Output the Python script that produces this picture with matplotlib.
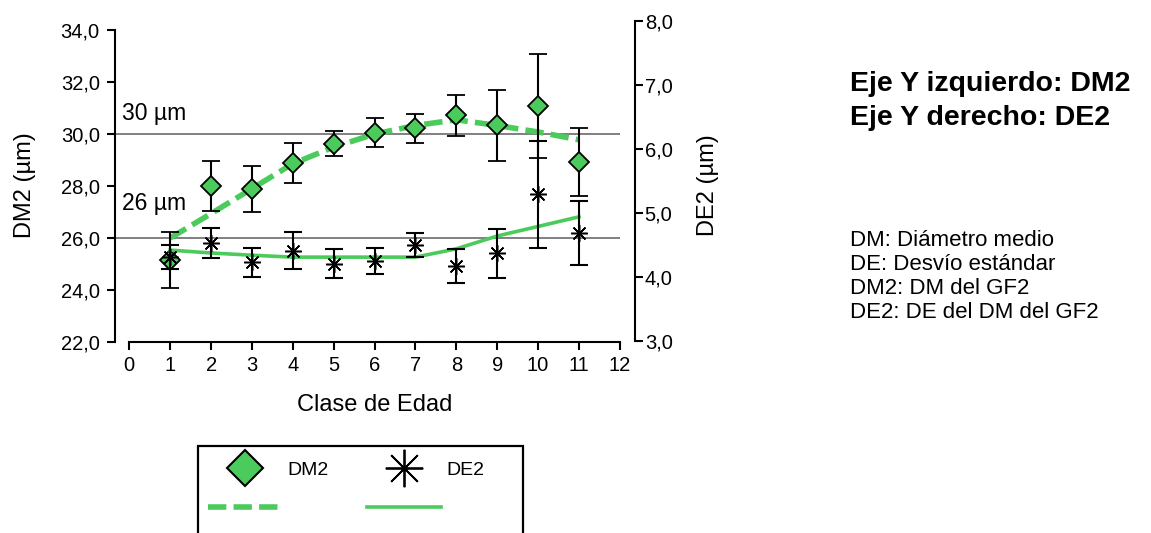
import matplotlib
matplotlib.use("Agg")
import matplotlib.pyplot as plt
from matplotlib.lines import Line2D
from matplotlib.patches import Rectangle

plt.rcParams['font.family'] = ['Liberation Sans', 'DejaVu Sans']

# clase de edad 1..11
clases = [1, 2, 3, 4, 5, 6, 7, 8, 9, 10, 11]

# diametro medio GF2 (eje izquierdo)
dm2 = [25.15, 28.0, 27.9, 28.9, 29.63, 30.05, 30.23, 30.72, 30.33, 31.07, 28.92]
dm2_err = [1.07, 0.95, 0.88, 0.77, 0.48, 0.56, 0.56, 0.79, 1.38, 2.0, 1.3]
dm2_fit = [26.0, 26.94, 27.9, 28.86, 29.5, 30.0, 30.33, 30.55, 30.33, 30.08, 29.78]

# desvio estandar (eje derecho)
de2 = [4.31, 4.53, 4.23, 4.41, 4.21, 4.25, 4.50, 4.17, 4.37, 5.29, 4.69]
de2_err = [0.19, 0.23, 0.23, 0.29, 0.23, 0.20, 0.18, 0.26, 0.38, 0.83, 0.50]
de2_fit = [4.42, 4.375, 4.34, 4.31, 4.31, 4.31, 4.31, 4.44, 4.64, 4.79, 4.94]

# lineas de referencia
ref_vals = [30, 26]
ref_labels = ["30 µm", "26 µm"]
ref_label_y = [30.8, 27.33]

left_ticks = [22, 24, 26, 28, 30, 32, 34]
right_ticks = [3, 4, 5, 6, 7, 8]
x_ticks = list(range(0, 13))

green = "#4BCB5B"
W, H = 1151, 533

fig = plt.figure(figsize=(W / 100, H / 100), dpi=100)
ax = fig.add_axes([115 / W, (H - 342) / H, 520 / W, 321 / H])
ax2 = ax.twinx()

ax.set_xlim(-0.35, 12.37)
ax.set_ylim(22, 34.35)
ax2.set_ylim(2.984, 8.0)

# reference lines
for v, lab, ly in zip(ref_vals, ref_labels, ref_label_y):
    ax.hlines(v, -0.35, 12, color="#808080", lw=1.4, zorder=1)
    ax.text(-0.18, ly, lab, fontsize=16.5, va="center", ha="left")

# DM2
ax.plot(clases, dm2_fit, color=green, lw=4, dashes=(3.3, 1.3), zorder=2)
ax.errorbar(clases, dm2, yerr=dm2_err, fmt="D", ms=10, mfc=green, mec="black",
            mew=1.3, ecolor="black", elinewidth=1.5, capsize=6.5, capthick=1.5,
            zorder=3)

# DE2
ax2.plot(clases, de2_fit, color=green, lw=2.6, zorder=2)
ax2.errorbar(clases, de2, yerr=de2_err, fmt="none", ecolor="black",
             elinewidth=1.5, capsize=6.5, capthick=1.5, zorder=3)
ax2.plot(clases, de2, ls="none", marker=(8, 2, 0), ms=12, mec="black",
         mew=1.1, zorder=4)

# spines and ticks
for s in ["top", "right"]:
    ax.spines[s].set_visible(False)
for s in ["top", "left", "bottom"]:
    ax2.spines[s].set_visible(False)
ax.spines["left"].set_bounds(22, 34)
ax.spines["bottom"].set_bounds(0, 12)
ax2.spines["right"].set_bounds(3, 8)
for sp in [ax.spines["left"], ax.spines["bottom"], ax2.spines["right"]]:
    sp.set_linewidth(1.5)

ax.set_xticks(x_ticks)
ax.set_yticks(left_ticks)
ax.set_yticklabels([f"{t:.1f}".replace(".", ",") for t in left_ticks])
ax2.set_yticks(right_ticks)
ax2.set_yticklabels([f"{t:.1f}".replace(".", ",") for t in right_ticks])
ax.tick_params(axis="y", length=6, width=1.5, pad=5, labelsize=14.5)
ax.tick_params(axis="x", length=6, width=1.5, pad=4, labelsize=14.5)
ax2.tick_params(axis="y", length=6, width=1.5, pad=1, labelsize=14.5)

ax.set_xlabel("Clase de Edad", fontsize=17)
ax.set_ylabel("DM2 (µm)", fontsize=17)
ax2.set_ylabel("DE2 (µm)", fontsize=17, rotation=90)
ax.xaxis.set_label_coords((375 - 115) / 520, (342 - 394) / 321)
ax.yaxis.set_label_coords((36 - 115) / 520, (342 - 185) / 321)
ax2.yaxis.set_label_coords((697 - 115) / 520, (342 - 185) / 321)

# legend
handles = [
    Line2D([], [], ls="none", marker="D", ms=18.5, mfc=green, mec="black", mew=1.5),
    Line2D([], [], color=green, lw=4, dashes=(3.3, 1.3)),
    Line2D([], [], ls="none", marker=(8, 2, 0), ms=27, mec="black", mew=1.3),
    Line2D([], [], color=green, lw=2.6),
]
fig.legend(handles, ["DM2", "", "DE2", ""], ncol=2, frameon=False,
           loc="upper left", bbox_to_anchor=(208 / W, (H - 461) / H),
           fontsize=14, handlelength=3.8, handletextpad=0.28,
           columnspacing=2.0, labelspacing=1.1, borderpad=0, borderaxespad=0)
fig.patches.append(Rectangle((198 / W, -0.1), (523 - 198) / W, (H - 446) / H + 0.1,
                             transform=fig.transFigure, fill=False,
                             edgecolor="black", lw=1.6))

# notes on the right
fig.text(850 / W, (H - 84) / H, "Eje Y izquierdo: DM2", fontsize=20.5,
         fontweight="bold", va="center")
fig.text(850 / W, (H - 118) / H, "Eje Y derecho: DE2", fontsize=20.5,
         fontweight="bold", va="center")
notas = ["DM: Diámetro medio", "DE: Desvío estándar", "DM2: DM del GF2",
         "DE2: DE del DM del GF2"]
for i, n in enumerate(notas):
    fig.text(850 / W, (H - (240 + 24 * i)) / H, n, fontsize=16, va="center")

fig.savefig("out.png", dpi=100)
